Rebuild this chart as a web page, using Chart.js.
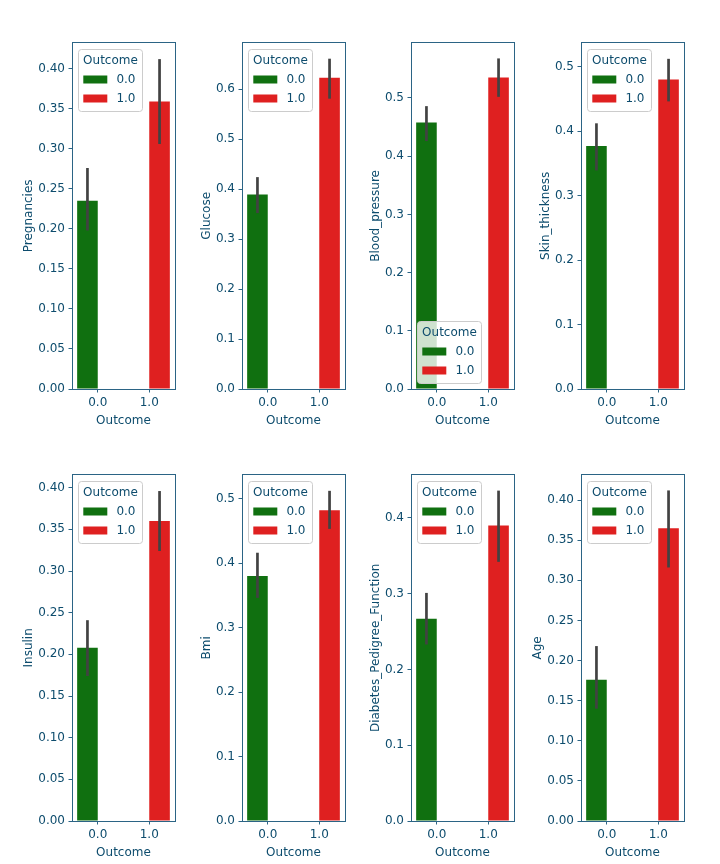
<!DOCTYPE html>
<html>
<head>
<meta charset="utf-8">
<script src="https://cdn.jsdelivr.net/npm/chart.js@4.4.1/dist/chart.umd.min.js"></script>
<style>
html, body { margin: 0; padding: 0; background: #ffffff; }
body { width: 720px; height: 864px; position: relative; overflow: hidden; }
.cell { position: absolute; }
.cell canvas { display: block; }
</style>
</head>
<body>
<script>
// ---------------- data ----------------
const features = ['Pregnancies', 'Glucose', 'Blood_pressure', 'Skin_thickness',
                  'Insulin', 'Bmi', 'Diabetes_Pedigree_Function', 'Age'];
const outcomeLevels = ['0.0', '1.0'];
const hueTitle = 'Outcome';

const meanOutcome0 = [0.235, 0.389, 0.458, 0.377, 0.208, 0.380, 0.267, 0.176];
const meanOutcome1 = [0.359, 0.623, 0.535, 0.480, 0.360, 0.482, 0.390, 0.365];

const ciLow0  = [0.198, 0.352, 0.426, 0.339, 0.174, 0.346, 0.233, 0.140];
const ciHigh0 = [0.276, 0.424, 0.486, 0.412, 0.241, 0.416, 0.301, 0.218];
const ciLow1  = [0.306, 0.581, 0.502, 0.446, 0.324, 0.453, 0.342, 0.316];
const ciHigh1 = [0.412, 0.661, 0.568, 0.512, 0.396, 0.512, 0.436, 0.412];

const yAxisMax   = [0.4325, 0.693, 0.595, 0.537, 0.4156, 0.537, 0.457, 0.4316];
const yTickStep  = [0.05, 0.1, 0.1, 0.1, 0.05, 0.1, 0.1, 0.05];
const yTickDigits = [2, 1, 1, 1, 2, 1, 1, 2];
const legendCorner = ['upper left', 'upper left', 'lower left', 'upper left',
                      'upper left', 'upper left', 'upper left', 'upper left'];

// ---------------- style ----------------
const GREEN = '#107010';
const RED = '#df2020';
const ERR = '#424242';
const TEXT = '#0d4c6d';
const SPINE = '#2b6485';
const FONT = { family: '"DejaVu Sans", sans-serif', size: 12, lineHeight: 1.2 };
const colLefts = [72, 242, 411, 581];
const rowTops = [43, 475];
const PLOT_W = 103;
const PLOT_H = 346;

// ---------------- plugins ----------------
const errorBars = {
  id: 'errorBars',
  afterDatasetsDraw(chart) {
    const ctx = chart.ctx;
    const ys = chart.scales.y;
    ctx.save();
    ctx.strokeStyle = ERR;
    ctx.lineWidth = 2.7;
    ctx.lineCap = 'butt';
    chart.data.datasets.forEach((ds, di) => {
      const meta = chart.getDatasetMeta(di);
      ds.ci.forEach((ci, idx) => {
        if (!ci) return;
        const bar = meta.data[idx];
        ctx.beginPath();
        ctx.moveTo(bar.x, ys.getPixelForValue(ci[0]));
        ctx.lineTo(bar.x, ys.getPixelForValue(ci[1]));
        ctx.stroke();
      });
    });
    ctx.restore();
  }
};

const axesFrame = {
  id: 'axesFrame',
  afterDatasetsDraw(chart) {
    const { ctx, chartArea: ca } = chart;
    const al = v => Math.round(v - 0.5) + 0.5;
    ctx.save();
    ctx.strokeStyle = SPINE;
    ctx.lineWidth = 1;
    const x0 = al(ca.left), x1 = al(ca.right), y0 = al(ca.top), y1 = al(ca.bottom);
    ctx.strokeRect(x0, y0, x1 - x0, y1 - y0);
    ctx.restore();
  }
};

const legendBox = {
  id: 'legendBox',
  afterDraw(chart, args, opts) {
    const { ctx, chartArea: ca } = chart;
    const fs = FONT.size;
    ctx.save();
    ctx.font = fs + 'px ' + FONT.family;
    const items = chart.data.datasets.map(d => ({ text: d.label, color: d.backgroundColor }));
    const pad = 4.8, handleW = 24, handleH = 8, textGap = 9.6;
    const titleW = ctx.measureText(opts.title).width;
    const itemW = handleW + textGap + Math.max(...items.map(it => ctx.measureText(it.text).width));
    const w = Math.round(Math.max(titleW, itemW) + 2 * pad);
    const titleDy = 11.5, firstDy = 30.5, rowDy = 19, tail = 12.2;
    const h = Math.round(firstDy + rowDy * (items.length - 1) + tail);
    const left = Math.round(ca.left + 6);
    const top = opts.corner === 'lower left' ? Math.round(ca.bottom - 6 - h) : Math.round(ca.top + 6);
    ctx.beginPath();
    ctx.roundRect(left + 0.5, top + 0.5, w, h, 3);
    ctx.fillStyle = 'rgba(255,255,255,0.8)';
    ctx.fill();
    ctx.strokeStyle = '#cccccc';
    ctx.lineWidth = 1;
    ctx.stroke();
    ctx.fillStyle = TEXT;
    ctx.textBaseline = 'middle';
    ctx.textAlign = 'center';
    ctx.fillText(opts.title, left + w / 2 + 0.5, top + titleDy);
    ctx.textAlign = 'left';
    items.forEach((it, k) => {
      const cy = top + firstDy + rowDy * k;
      ctx.fillStyle = it.color;
      ctx.fillRect(left + pad + 0.5, cy - handleH / 2, handleW, handleH);
      ctx.fillStyle = TEXT;
      ctx.fillText(it.text, left + pad + handleW + textGap, cy + 0.5);
    });
    ctx.restore();
  }
};

// ---------------- charts ----------------
function buildChart(i) {
  const div = document.createElement('div');
  div.className = 'cell';
  const W0 = 200, H0 = 440;
  div.style.width = W0 + 'px';
  div.style.height = H0 + 'px';
  div.style.left = '0px';
  div.style.top = '0px';
  const canvas = document.createElement('canvas');
  div.appendChild(canvas);
  document.body.appendChild(div);

  const step = yTickStep[i], digits = yTickDigits[i];
  const pad = { left: 2, top: 10, right: 10, bottom: 2 };

  const chart = new Chart(canvas, {
    type: 'bar',
    data: {
      labels: outcomeLevels,
      datasets: [
        { label: outcomeLevels[0], data: [meanOutcome0[i], null], backgroundColor: GREEN,
          ci: [[ciLow0[i], ciHigh0[i]], null] },
        { label: outcomeLevels[1], data: [null, meanOutcome1[i]], backgroundColor: RED,
          ci: [null, [ciLow1[i], ciHigh1[i]]] }
      ]
    },
    options: {
      responsive: true,
      maintainAspectRatio: false,
      animation: false,
      devicePixelRatio: 1,
      layout: { padding: pad },
      datasets: { bar: { categoryPercentage: 0.8, barPercentage: 1.0, borderWidth: 0 } },
      scales: {
        x: {
          type: 'category',
          offset: true,
          grid: { display: true, drawOnChartArea: false, drawTicks: true, tickLength: 3.5,
                  offset: false, color: SPINE, tickColor: SPINE, tickWidth: 1 },
          border: { display: true, color: SPINE, width: 1 },
          ticks: { color: TEXT, font: FONT, padding: 3, maxRotation: 0, autoSkip: false },
          title: { display: true, text: hueTitle, color: TEXT, font: FONT, padding: { top: 0.5, bottom: 0 } }
        },
        y: {
          type: 'linear',
          min: 0,
          max: yAxisMax[i],
          grid: { display: true, drawOnChartArea: false, drawTicks: true, tickLength: 3.5,
                  color: SPINE, tickColor: SPINE, tickWidth: 1 },
          border: { display: true, color: SPINE, width: 1 },
          ticks: { color: TEXT, font: FONT, padding: 3.5, stepSize: step, includeBounds: false,
                   callback: v => Number(v).toFixed(digits) },
          title: { display: true, text: features[i], color: TEXT, font: FONT, padding: { top: 0, bottom: -1.5 } }
        }
      },
      plugins: {
        legend: { display: false },
        tooltip: { enabled: false },
        legendBox: { title: hueTitle, corner: legendCorner[i] }
      }
    },
    plugins: [errorBars, axesFrame, legendBox]
  });

  // fit the canvas so the plot area lands at its grid slot with the target size
  const ca = chart.chartArea;
  const L = Math.ceil(ca.left), T = Math.ceil(ca.top);
  const extraR = W0 - ca.right, extraB = H0 - ca.bottom;
  pad.left += L - ca.left;
  pad.top += T - ca.top;
  pad.right += Math.ceil(extraR) - extraR;
  pad.bottom += Math.ceil(extraB) - extraB;
  chart.options.layout.padding = { ...pad };
  const W = L + PLOT_W + Math.ceil(extraR);
  const H = T + PLOT_H + Math.ceil(extraB);
  div.style.width = W + 'px';
  div.style.height = H + 'px';
  chart.resize();
  chart.update();
  const ca2 = chart.chartArea;
  div.style.left = (colLefts[i % 4] - Math.round(ca2.left)) + 'px';
  div.style.top = (rowTops[Math.floor(i / 4)] - Math.round(ca2.top)) + 'px';
  return chart;
}

features.forEach((f, i) => buildChart(i));
</script>
</body>
</html>
